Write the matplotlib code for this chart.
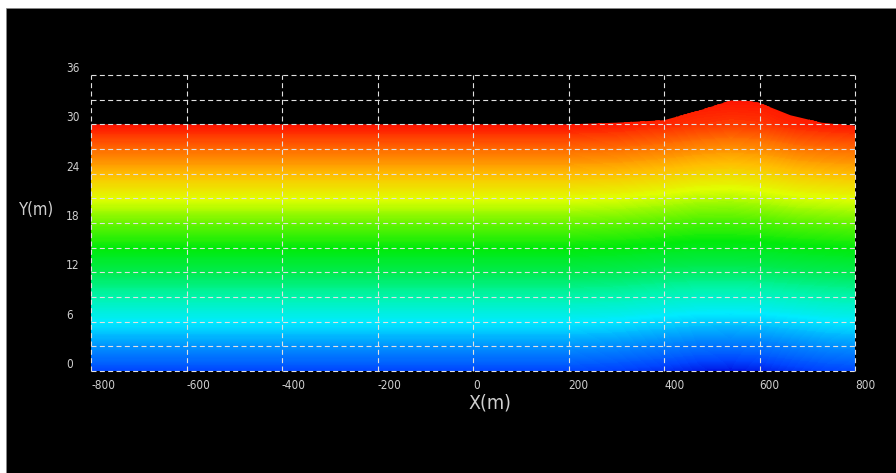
import numpy as np
import matplotlib
matplotlib.use('Agg')
import matplotlib.pyplot as plt
from matplotlib.colors import LinearSegmentedColormap, Normalize
from matplotlib.patches import Polygon, Rectangle
from matplotlib import font_manager

# ---- data ----
x_nodes = [-800, -400, 0, 200, 300, 400, 470, 540, 610, 680, 740, 800]
y_nodes = [0, 3, 6, 9, 12, 15, 18, 21, 24, 27, 30, 33]
# field level at each (y row, x column)
row_y0 = [0, 0, 0, 0, -0.3, -0.8, -1.3, -1.5, -1.2, -0.6, -0.2, 0]
row_y3 = [3, 3, 3, 3, 2.7, 2.2, 1.8, 1.7, 1.9, 2.4, 2.8, 3]
row_y6 = [6, 6, 6, 6, 5.8, 5.3, 5.0, 4.9, 5.0, 5.4, 5.8, 6]
row_y9 = [9, 9, 9, 9, 8.8, 8.3, 8.0, 8.0, 8.1, 8.5, 8.8, 9]
row_y12 = [12, 12, 12, 12, 11.8, 11.4, 11.2, 11.2, 11.3, 11.6, 11.8, 12]
row_y15 = [15, 15, 15, 15, 14.8, 14.4, 14.2, 14.2, 14.3, 14.6, 14.8, 15]
row_y18 = [18, 18, 18, 18, 17.8, 17.4, 17.0, 17.0, 17.2, 17.6, 17.8, 18]
row_y21 = [21, 21, 21, 21, 20.8, 20.3, 19.9, 19.8, 20.1, 20.6, 20.8, 21]
row_y24 = [24, 24, 24, 24, 23.8, 23.3, 22.8, 22.6, 22.9, 23.5, 23.8, 24]
row_y27 = [27, 27, 27, 27, 26.8, 26.3, 25.8, 25.5, 25.8, 26.5, 26.8, 27]
row_y30 = [30, 30, 30, 30, 29.8, 29.3, 28.9, 28.6, 28.8, 29.5, 29.8, 30]
row_y33 = [30, 30, 30, 30, 30, 30, 30, 30, 30, 30, 30, 30]

surface_x = [-800, 200, 300, 400, 475, 540, 570, 600, 665, 730, 800]
surface_y = [30.0, 30.0, 30.2, 30.5, 31.7, 32.9, 32.9, 32.6, 31.1, 30.2, 29.8]

x_ticks = [-800, -600, -400, -200, 0, 200, 400, 600, 800]
y_ticks = [0, 6, 12, 18, 24, 30, 36]
y_grid = [0, 3, 6, 9, 12, 15, 18, 21, 24, 27, 30, 33, 36]

# ---- styling ----
W, H = 896, 473
fig = plt.figure(figsize=(W / 100, H / 100), dpi=100, facecolor='white')
fig.patches.append(Rectangle((6 / W, 0), 1, 1 - 8 / H, transform=fig.transFigure,
                             facecolor='black', edgecolor='#888888', lw=0.5, zorder=-5))

ax = fig.add_axes([91 / W, 1 - 371 / H, (855 - 91) / W, (371 - 75) / H], zorder=2)
ax.set_facecolor('black')

stops = [(-2, (0, 0, 215)), (0, (0, 70, 255)), (3, (0, 145, 255)),
         (6, (0, 235, 255)), (9, (0, 245, 175)), (12, (0, 235, 80)), (15, (0, 235, 10)),
         (18, (100, 245, 0)), (21, (225, 255, 0)),
         (24, (255, 190, 0)), (27, (255, 110, 0)), (30, (255, 20, 0))]
vmin, vmax = -2, 30
cmap = LinearSegmentedColormap.from_list(
    'field', [((v - vmin) / (vmax - vmin), tuple(c / 255 for c in col)) for v, col in stops])

Z = np.array([row_y0, row_y3, row_y6, row_y9, row_y12, row_y15, row_y18,
              row_y21, row_y24, row_y27, row_y30, row_y33])
X, Y = np.meshgrid(x_nodes, y_nodes)
levels = np.linspace(vmin, vmax + 0.01, 240)
cs = ax.contourf(X, Y, Z, levels=levels, cmap=cmap, norm=Normalize(vmin, vmax), zorder=1)
cs.set_edgecolor('face')
cs.set_linewidth(0.4)

clip = Polygon(list(zip(surface_x, surface_y)) + [(surface_x[-1], 0), (surface_x[0], 0)],
               closed=True, transform=ax.transData, facecolor='none', edgecolor='none')
ax.add_patch(clip)
cs.set_clip_path(clip)

ax.set_xlim(-800, 800)
ax.set_ylim(0, 36)

gcol = '#e0e0e0'
dash = (0, (4.5, 3))
for gx in x_ticks:
    ax.axvline(gx, color=gcol, lw=0.8, ls=dash, zorder=3, clip_on=False)
for gy in y_grid:
    ax.axhline(gy, color=gcol, lw=0.8, ls=dash, zorder=3, clip_on=False)
for s in ax.spines.values():
    s.set_visible(False)

names = {f.name for f in font_manager.fontManager.ttflist}
if 'Liberation Sans Narrow' in names:
    tfont = ['Liberation Sans Narrow', 'DejaVu Sans']
    tstretch = 'normal'
else:
    tfont = ['DejaVu Sans']
    tstretch = 'condensed'

tcol = '#cfcfcf'
ax.set_xticks(x_ticks)
ax.set_xticklabels([str(v) for v in x_ticks])
ax.set_yticks(y_ticks)
ax.set_yticklabels([str(v) for v in y_ticks])
ax.tick_params(axis='both', length=0, colors=tcol, labelsize=8.5)
ax.tick_params(axis='x', pad=6)
ax.tick_params(axis='y', pad=18)
for lab in ax.get_xticklabels():
    lab.set_horizontalalignment('left')
    lab.set_family(tfont)
    lab.set_stretch(tstretch)
for lab in ax.get_yticklabels():
    lab.set_horizontalalignment('left')
    lab.set_verticalalignment('bottom')
    lab.set_family(tfont)
    lab.set_stretch(tstretch)

fig.text(490 / W, 1 - 403 / H, 'X(m)', color=tcol, fontsize=14, family=tfont,
         stretch=tstretch, ha='center', va='center')
fig.text(37 / W, 1 - 210 / H, 'Y(m)', color=tcol, fontsize=12, family=tfont,
         stretch=tstretch, ha='center', va='center')

fig.savefig('out.png', dpi=100, facecolor=fig.get_facecolor())
